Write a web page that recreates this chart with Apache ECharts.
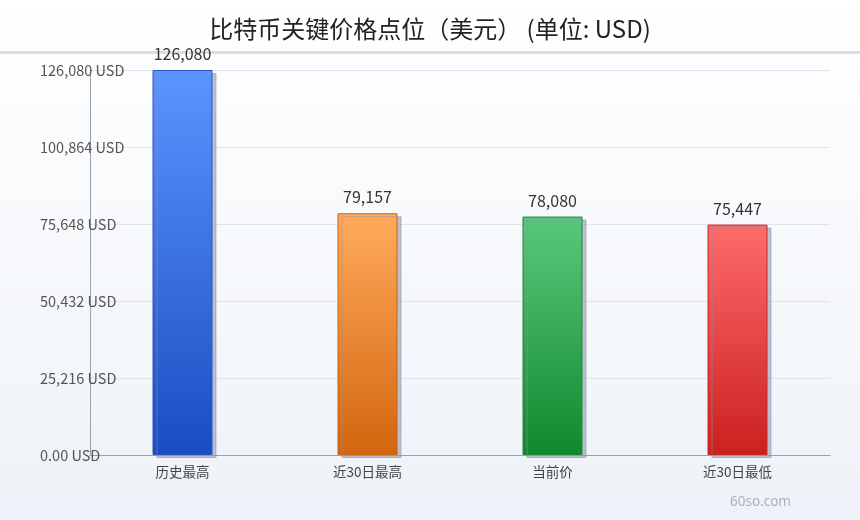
<!DOCTYPE html>
<html><head><meta charset="utf-8">
<script src="https://cdn.jsdelivr.net/npm/echarts@6/dist/echarts.min.js"></script>
<style>html,body{margin:0;padding:0;}#c{width:860px;height:520px;}</style>
</head><body><div id="c"></div>
<script>
const categories = ['历史最高', '近30日最高', '当前价', '近30日最低'];
const values = [126080, 79157, 78080, 75447];
const yTicks = [0, 25216, 50432, 75648, 100864, 126080];
const barColors = [['#5b95ff', '#1a4cc2'], ['#ffab5c', '#d3650e'], ['#58c97c', '#11882e'], ['#ff6b6b', '#cb2020']];
const borderColors = ['#2a55c0', '#c8650f', '#1b8a38', '#c82a2a'];

const chart = echarts.init(document.getElementById('c'), null, {renderer: 'canvas'});
const fmt = v => v === 0 ? '0.00 USD' : v.toLocaleString('en-US') + ' USD';
chart.setOption({
  backgroundColor: new echarts.graphic.LinearGradient(0, 0, 0, 1, [{offset: 0, color: '#ffffff'}, {offset: 1, color: '#eef2f8'}]),
  animation: false,
  title: {text: '比特币关键价格点位（美元） (单位: USD)', left: 'center', top: 12,
    textStyle: {fontFamily: 'Noto Sans CJK SC', fontSize: 24, fontWeight: 'normal', color: '#222'}},
  graphic: [
    {type: 'rect', left: 0, top: 51, shape: {width: 860, height: 3}, style: {fill: '#dcdee6'}},
    {type: 'text', left: 730, top: 495, style: {text: '60so.com', fill: '#a8b0c0', font: '13.5px "Noto Sans"'}}
  ],
  grid: {left: 90, right: 30, top: 70, bottom: 65},
  xAxis: {type: 'category', data: categories,
    axisLine: {lineStyle: {color: '#9aa0aa'}}, axisTick: {show: false},
    axisLabel: {color: '#444', fontSize: 13.5, fontFamily: 'Noto Sans CJK SC', margin: 10}},
  yAxis: {type: 'value', min: 0, max: yTicks[yTicks.length - 1], interval: yTicks[1],
    axisLine: {show: true, lineStyle: {color: '#9aa0aa'}}, axisTick: {show: false},
    splitLine: {lineStyle: {color: '#dfe3ea'}},
    axisLabel: {align: 'left', margin: 50, color: '#555', fontSize: 14.5, fontFamily: 'Noto Sans CJK SC', formatter: fmt, padding: [0, 0, 2, 0]}},
  series: [{type: 'bar', barWidth: 60,
    data: values.map((v, i) => ({value: v, itemStyle: {
      color: new echarts.graphic.LinearGradient(0, 0, 0, 1, [{offset: 0, color: barColors[i][0]}, {offset: 1, color: barColors[i][1]}]),
      borderColor: borderColors[i], borderWidth: 1,
      shadowColor: 'rgba(140,145,170,0.55)', shadowOffsetX: 4, shadowOffsetY: 3, shadowBlur: 0}})),
    label: {show: true, position: 'top', distance: 8, color: '#333', fontSize: 16, fontFamily: 'Noto Sans CJK SC',
      formatter: p => p.value.toLocaleString('en-US')}}]
});
</script></body></html>
